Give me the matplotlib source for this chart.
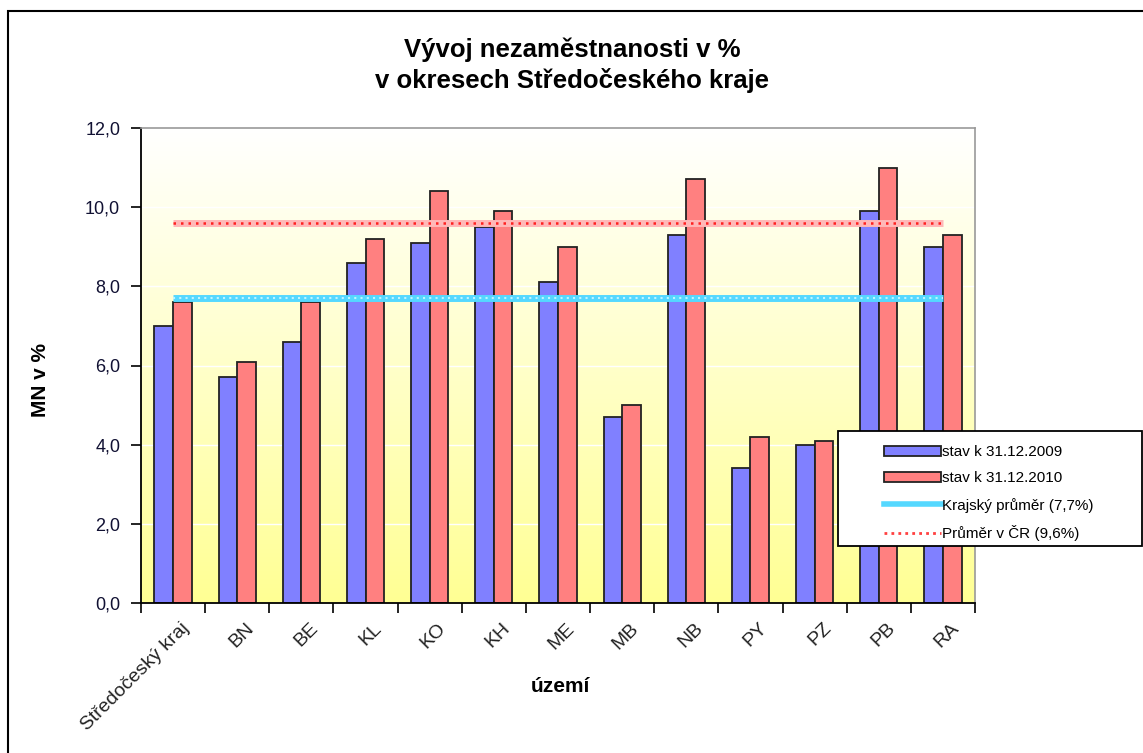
import matplotlib.pyplot as plt
import matplotlib.patches as mpatches
from matplotlib.lines import Line2D
import numpy as np

plt.rcParams['font.family'] = ['Liberation Sans', 'DejaVu Sans']

# data
uzemi = ["Středočeský kraj", "BN", "BE", "KL", "KO", "KH", "ME", "MB",
         "NB", "PY", "PZ", "PB", "RA"]
stav2009 = [7.0, 5.7, 6.6, 8.6, 9.1, 9.5, 8.1, 4.7, 9.3, 3.4, 4.0, 9.9, 9.0]
stav2010 = [7.6, 6.1, 7.6, 9.2, 10.4, 9.9, 9.0, 5.0, 10.7, 4.2, 4.1, 11.0, 9.3]
krajsky_prumer = 7.7
prumer_cr = 9.6

blue = "#8080ff"
red = "#ff8080"

fig = plt.figure(figsize=(11.43, 7.53), dpi=100)
ax = fig.add_axes([141 / 1143, 150 / 753, (975 - 141) / 1143, (603 - 128) / 753])

x = np.arange(len(uzemi))
w = 0.29

# background gradient white (top) -> pale yellow (bottom)
grad = np.linspace(0, 1, 256).reshape(-1, 1)
top = np.array([1.0, 1.0, 1.0])
bot = np.array([1.0, 1.0, 0.58])
img = top + (bot - top) * grad[..., None]
ax.imshow(img, extent=[-0.5, len(uzemi) - 0.5, 0, 12], aspect='auto', zorder=0,
          origin='upper')

for yv in [2, 4, 6, 8, 10]:
    ax.axhline(yv, color='white', lw=1, zorder=1)

ax.bar(x - w / 2, stav2009, w, color=blue, edgecolor='#222222', lw=1.3, zorder=2)
ax.bar(x + w / 2, stav2010, w, color=red, edgecolor='#222222', lw=1.3, zorder=2)

# average lines
ax.plot([x[0], x[-1]], [krajsky_prumer] * 2, color='#55d8ff', lw=5, zorder=3,
        solid_capstyle='butt')
ax.plot([x[0], x[-1]], [krajsky_prumer] * 2, color='#c0f4ff', lw=1.5, ls=(0, (1, 2)),
        zorder=3, dash_capstyle='butt')
ax.plot([x[0], x[-1]], [prumer_cr] * 2, color='#ffb8b8', lw=5, zorder=3,
        solid_capstyle='butt')
ax.plot([x[0], x[-1]], [prumer_cr] * 2, color='#ff2020', lw=1.8, ls=(0, (1, 2)),
        zorder=3, dash_capstyle='butt')

ax.set_xlim(-0.5, len(uzemi) - 0.5)
ax.set_ylim(0, 12)
yt = np.arange(0, 12.1, 2)
ax.set_yticks(yt)
ax.set_yticklabels([f"{v:.1f}".replace('.', ',') for v in yt], fontsize=13,
                   color='#111133')
ax.set_xticks(np.arange(-0.5, len(uzemi)), minor=False)
ax.set_xticklabels([])
ax.set_xticks(x + 0.12, minor=True)
ax.set_xticklabels(uzemi, minor=True, rotation=45, ha='right', rotation_mode='anchor',
                   fontsize=14, color='#222222')
ax.tick_params(axis='x', which='minor', length=0, pad=12)
ax.tick_params(axis='x', which='major', length=7, width=1.2, direction='out')
ax.tick_params(axis='y', length=7, width=1.2, direction='out', pad=8)

for s in ['left', 'bottom']:
    ax.spines[s].set_color('black')
    ax.spines[s].set_linewidth(1.3)
for s in ['top', 'right']:
    ax.spines[s].set_color('#999999')
    ax.spines[s].set_linewidth(1.2)

fig.text(40 / 1143, 1 - 380 / 753, 'MN v %', rotation=90, ha='center', va='center',
         fontsize=15, fontweight='bold')
fig.text(560 / 1143, 1 - 686 / 753, 'území', ha='center', va='center',
         fontsize=15, fontweight='bold')

fig.text(572 / 1143, 1 - 65 / 753,
         'Vývoj nezaměstnanosti v %\nv okresech Středočeského kraje',
         ha='center', va='center', fontsize=18.5, fontweight='bold', linespacing=1.3)

# legend: frame drawn separately, entries inside
fig.patches.append(mpatches.Rectangle((838 / 1143, 1 - 546 / 753), (1142 - 838) / 1143,
                                      (546 - 431) / 753, transform=fig.transFigure,
                                      facecolor='white', edgecolor='black', lw=1.3,
                                      zorder=5))
handles = [
    mpatches.Patch(facecolor=blue, edgecolor='#222222', lw=1.3),
    mpatches.Patch(facecolor=red, edgecolor='#222222', lw=1.3),
    Line2D([], [], color='#55d8ff', lw=4),
    Line2D([], [], color='#ff4040', lw=2, ls=(0, (1, 1.5))),
]
labels = ['stav k 31.12.2009', 'stav k 31.12.2010', 'Krajský průměr (7,7%)',
          'Průměr v ČR (9,6%)']
leg = fig.legend(handles, labels, loc='upper left',
                 bbox_to_anchor=(872 / 1143, 1 - 433 / 753), fontsize=11,
                 frameon=False, handlelength=3.7, handleheight=0.65,
                 labelspacing=0.8, borderpad=0.3, handletextpad=0.1)
leg.set_zorder(6)

# outer chart border
fig.patches.append(mpatches.Rectangle((8 / 1143, -0.1), 1.2, 1 - 11 / 753 + 0.1,
                                      transform=fig.transFigure, fill=False,
                                      edgecolor='black', lw=1.5))

fig.savefig('out.png', dpi=100)
